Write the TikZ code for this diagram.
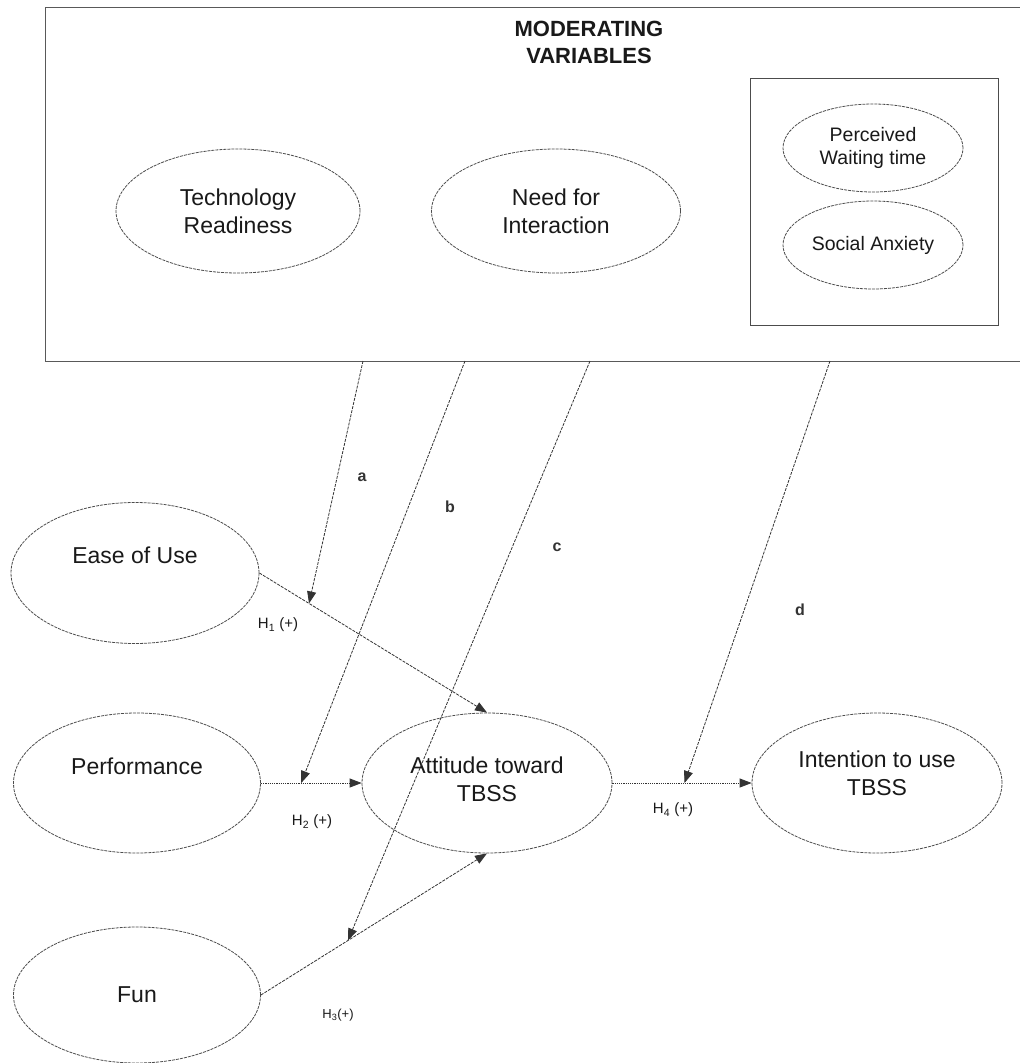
\documentclass[tikz,border=0pt]{standalone}
\usepackage{fontspec}
\setmainfont{Liberation Sans}
\usetikzlibrary{shapes.geometric,arrows.meta}
\begin{document}
\begin{tikzpicture}[x=1pt,y=-1pt,
  ell/.style={ellipse,draw=black!70,line width=0.8pt,dash pattern=on 3pt off 1pt,inner sep=0pt},
  bigtxt/.style={font=\fontsize{23}{28}\selectfont,align=center,text=black!90,inner sep=0pt},
  smalltxt/.style={font=\fontsize{19.5}{23}\selectfont,align=center,text=black!90,inner sep=0pt},
  boxline/.style={draw=black!65,line width=1pt},
  conn/.style={draw=black!80,line width=0.8pt,dash pattern=on 3pt off 1.2pt,-{Triangle[length=12pt,width=9pt]}},
  dotconn/.style={draw=black!80,line width=0.8pt,dash pattern=on 1.2pt off 1pt,-{Triangle[length=12pt,width=9pt]}},
  lab/.style={font=\bfseries\fontsize{16}{19}\selectfont,text=black!80,inner sep=0pt},
  hlab/.style={font=\fontsize{15}{18}\selectfont,text=black!90,inner sep=0pt}
]
\useasboundingbox (0,0) rectangle (1020,1063);
\fill[white] (0,0) rectangle (1020,1063);

% outer moderating box (open to the right edge)
\draw[boxline] (1025,7) -- (45,7) -- (45,361) -- (1025,361);
\node[font=\bfseries\fontsize{22}{27}\selectfont,align=center,text=black!90,inner sep=0pt] (title) at (589,42) {MODERATING\\VARIABLES};

% moderators
\node[ell,minimum width=244pt,minimum height=124pt] (tr) at (238,211) {};
\node[bigtxt] (trt) at (tr.center) {Technology\\Readiness};
\node[ell,minimum width=249pt,minimum height=124pt] (nfi) at (556,211) {};
\node[bigtxt] (nfit) at (nfi.center) {Need for\\Interaction};

\node[draw=black!70,line width=0.9pt,minimum width=248pt,minimum height=247pt,inner sep=0pt] (inner) at (874,201.5) {};
\node[ell,minimum width=180pt,minimum height=88pt] (pwt) at (873,148) {};
\node[smalltxt] (pwtt) at (pwt.center) {Perceived\\Waiting time};
\node[ell,minimum width=180pt,minimum height=88pt] (sa) at (873,245) {};
\node[smalltxt] (sat) at (sa.center) {Social Anxiety};

% start points on the bottom edge of the moderating box
\coordinate (ma) at (363,361);
\coordinate (mb) at (465,361);
\coordinate (mc) at (590,361);
\coordinate (md) at (830,361);

% constructs
\node[ell,minimum width=248pt,minimum height=141pt] (eou) at (135,573) {};
\node[bigtxt] (eout) at ([yshift=18pt]eou.center) {Ease of Use};
\node[ell,minimum width=247pt,minimum height=140pt] (perf) at (137,783) {};
\node[bigtxt] (perft) at ([yshift=17pt]perf.center) {Performance};
\node[ell,minimum width=247pt,minimum height=136pt] (fun) at (137,995) {};
\node[bigtxt] (funt) at (fun.center) {Fun};
\node[ell,minimum width=250pt,minimum height=140pt] (att) at (487,783) {};
\node[bigtxt] (attt) at ([yshift=4pt]att.center) {Attitude toward\\TBSS};
\node[ell,minimum width=250pt,minimum height=140pt] (int) at (877,783) {};
\node[bigtxt] (intt) at ([yshift=10pt]int.center) {Intention to use\\TBSS};

% hypothesised paths
\draw[conn] (eou.east) -- coordinate[pos=0.218] (h1a) (att.north);
\draw[dotconn] (perf.east) -- coordinate[pos=0.4] (h2b) (att.west);
\draw[conn] (fun.east) -- coordinate[pos=0.385] (h3c) (att.south);
\draw[dotconn] (att.east) -- coordinate[pos=0.518] (h4d) (int.west);

% moderating paths
\draw[conn] (ma) -- (h1a);
\draw[conn] (mb) -- (h2b);
\draw[conn] (mc) -- (h3c);
\draw[conn] (md) -- (h4d);

% labels
\node[lab] (la) at (362,477) {a};
\node[lab] (lb) at (450,507) {b};
\node[lab] (lc) at (557,547) {c};
\node[lab] (ld) at (800,610) {d};
\node[hlab] (lh1) at (278,625) {H\textsubscript{1} (+)};
\node[hlab] (lh2) at (312,822) {H\textsubscript{2} (+)};
\node[hlab,font=\fontsize{13}{16}\selectfont] (lh3) at (338,1015) {H\textsubscript{3}(+)};
\node[hlab] (lh4) at (673,810) {H\textsubscript{4} (+)};
\end{tikzpicture}
\end{document}
